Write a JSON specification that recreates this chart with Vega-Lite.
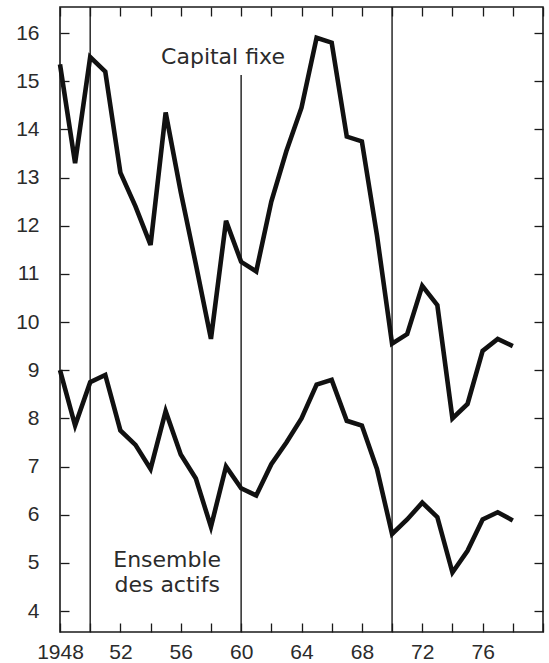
{
  "$schema": "https://vega.github.io/schema/vega-lite/v6.json",
  "width": 483,
  "height": 625,
  "autosize": {"type": "none"},
  "padding": {"left": 60, "top": 7, "right": 6, "bottom": 31},
  "background": "white",
  "config": {
    "view": {"stroke": "#1a1a1a", "strokeWidth": 1.6},
    "axis": {
      "domain": false,
      "grid": false,
      "title": null,
      "tickColor": "#1a1a1a",
      "tickWidth": 1.3,
      "tickSize": 9,
      "offset": -9,
      "labelFont": "Liberation Sans",
      "labelFontSize": 21,
      "labelColor": "#2b2b2b"
    }
  },
  "datasets": {
    "decades": [
      {"year": 1950, "lo": 3.565, "hi": 16.54},
      {"year": 1960, "lo": 3.565, "hi": 15.13},
      {"year": 1970, "lo": 3.565, "hi": 16.54}
    ],
    "series": [
      {"year": 1948, "serie": "Capital fixe", "taux": 15.35},
      {"year": 1949, "serie": "Capital fixe", "taux": 13.3},
      {"year": 1950, "serie": "Capital fixe", "taux": 15.5},
      {"year": 1951, "serie": "Capital fixe", "taux": 15.2},
      {"year": 1952, "serie": "Capital fixe", "taux": 13.1},
      {"year": 1953, "serie": "Capital fixe", "taux": 12.4},
      {"year": 1954, "serie": "Capital fixe", "taux": 11.6},
      {"year": 1955, "serie": "Capital fixe", "taux": 14.35},
      {"year": 1956, "serie": "Capital fixe", "taux": 12.7},
      {"year": 1957, "serie": "Capital fixe", "taux": 11.2},
      {"year": 1958, "serie": "Capital fixe", "taux": 9.65},
      {"year": 1959, "serie": "Capital fixe", "taux": 12.1},
      {"year": 1960, "serie": "Capital fixe", "taux": 11.25},
      {"year": 1961, "serie": "Capital fixe", "taux": 11.05},
      {"year": 1962, "serie": "Capital fixe", "taux": 12.5},
      {"year": 1963, "serie": "Capital fixe", "taux": 13.55},
      {"year": 1964, "serie": "Capital fixe", "taux": 14.45},
      {"year": 1965, "serie": "Capital fixe", "taux": 15.9},
      {"year": 1966, "serie": "Capital fixe", "taux": 15.8},
      {"year": 1967, "serie": "Capital fixe", "taux": 13.85},
      {"year": 1968, "serie": "Capital fixe", "taux": 13.75},
      {"year": 1969, "serie": "Capital fixe", "taux": 11.8},
      {"year": 1970, "serie": "Capital fixe", "taux": 9.55},
      {"year": 1971, "serie": "Capital fixe", "taux": 9.75},
      {"year": 1972, "serie": "Capital fixe", "taux": 10.75},
      {"year": 1973, "serie": "Capital fixe", "taux": 10.35},
      {"year": 1974, "serie": "Capital fixe", "taux": 8.0},
      {"year": 1975, "serie": "Capital fixe", "taux": 8.3},
      {"year": 1976, "serie": "Capital fixe", "taux": 9.4},
      {"year": 1977, "serie": "Capital fixe", "taux": 9.65},
      {"year": 1978, "serie": "Capital fixe", "taux": 9.5},
      {"year": 1948, "serie": "Ensemble des actifs", "taux": 9.0},
      {"year": 1949, "serie": "Ensemble des actifs", "taux": 7.85},
      {"year": 1950, "serie": "Ensemble des actifs", "taux": 8.75},
      {"year": 1951, "serie": "Ensemble des actifs", "taux": 8.9},
      {"year": 1952, "serie": "Ensemble des actifs", "taux": 7.75},
      {"year": 1953, "serie": "Ensemble des actifs", "taux": 7.45},
      {"year": 1954, "serie": "Ensemble des actifs", "taux": 6.95},
      {"year": 1955, "serie": "Ensemble des actifs", "taux": 8.15},
      {"year": 1956, "serie": "Ensemble des actifs", "taux": 7.25},
      {"year": 1957, "serie": "Ensemble des actifs", "taux": 6.75},
      {"year": 1958, "serie": "Ensemble des actifs", "taux": 5.75},
      {"year": 1959, "serie": "Ensemble des actifs", "taux": 7.0},
      {"year": 1960, "serie": "Ensemble des actifs", "taux": 6.55},
      {"year": 1961, "serie": "Ensemble des actifs", "taux": 6.4},
      {"year": 1962, "serie": "Ensemble des actifs", "taux": 7.05},
      {"year": 1963, "serie": "Ensemble des actifs", "taux": 7.5},
      {"year": 1964, "serie": "Ensemble des actifs", "taux": 8.0},
      {"year": 1965, "serie": "Ensemble des actifs", "taux": 8.7},
      {"year": 1966, "serie": "Ensemble des actifs", "taux": 8.8},
      {"year": 1967, "serie": "Ensemble des actifs", "taux": 7.95},
      {"year": 1968, "serie": "Ensemble des actifs", "taux": 7.85},
      {"year": 1969, "serie": "Ensemble des actifs", "taux": 6.95},
      {"year": 1970, "serie": "Ensemble des actifs", "taux": 5.6},
      {"year": 1971, "serie": "Ensemble des actifs", "taux": 5.9},
      {"year": 1972, "serie": "Ensemble des actifs", "taux": 6.25},
      {"year": 1973, "serie": "Ensemble des actifs", "taux": 5.95},
      {"year": 1974, "serie": "Ensemble des actifs", "taux": 4.8},
      {"year": 1975, "serie": "Ensemble des actifs", "taux": 5.25},
      {"year": 1976, "serie": "Ensemble des actifs", "taux": 5.9},
      {"year": 1977, "serie": "Ensemble des actifs", "taux": 6.05},
      {"year": 1978, "serie": "Ensemble des actifs", "taux": 5.88}
    ],
    "labels": [
      {"year": 1958.8, "taux": 15.51, "texte": ["Capital  fixe"]},
      {"year": 1955.1, "taux": 5.05, "texte": ["Ensemble", "des actifs"]}
    ]
  },
  "resolve": {"axis": {"x": "independent", "y": "independent"}},
  "layer": [
    {
      "data": {"name": "decades"},
      "mark": {"type": "rule", "color": "#1a1a1a", "strokeWidth": 1.4},
      "encoding": {
        "x": {
          "field": "year",
          "type": "quantitative",
          "scale": {"domain": [1948, 1980], "nice": false, "zero": false},
          "axis": {
            "orient": "bottom",
            "values": [1948, 1950, 1952, 1954, 1956, 1958, 1960, 1962, 1964, 1966, 1968, 1970, 1972, 1974, 1976, 1978, 1980],
            "labelExpr": "datum.value === 1948 ? '1948' : ((datum.value % 4 === 0 && datum.value < 1980) ? slice(toString(datum.value), 2) : '')",
            "labelOverlap": false,
            "labelFlush": false,
            "labelPadding": 9
          }
        },
        "y": {
          "field": "lo",
          "type": "quantitative",
          "scale": {"domain": [3.565, 16.54], "nice": false, "zero": false},
          "axis": {
            "orient": "left",
            "values": [4, 5, 6, 7, 8, 9, 10, 11, 12, 13, 14, 15, 16],
            "labelPadding": 21
          }
        },
        "y2": {"field": "hi"}
      }
    },
    {
      "data": {"name": "series"},
      "mark": {"type": "line", "color": "#111111", "strokeWidth": 4.6, "strokeJoin": "miter"},
      "encoding": {
        "x": {
          "field": "year",
          "type": "quantitative",
          "axis": {
            "orient": "top",
            "values": [1948, 1950, 1952, 1954, 1956, 1958, 1960, 1962, 1964, 1966, 1968, 1970, 1972, 1974, 1976, 1978, 1980],
            "labels": false
          }
        },
        "y": {
          "field": "taux",
          "type": "quantitative",
          "axis": {
            "orient": "right",
            "values": [4, 5, 6, 7, 8, 9, 10, 11, 12, 13, 14, 15, 16],
            "labels": false
          }
        },
        "detail": {"field": "serie"}
      }
    },
    {
      "data": {"name": "labels"},
      "mark": {
        "type": "text",
        "font": "DejaVu Sans",
        "fontSize": 22,
        "color": "#2b2b2b",
        "align": "center",
        "baseline": "middle",
        "lineHeight": 25
      },
      "encoding": {
        "x": {"field": "year", "type": "quantitative", "axis": null},
        "y": {"field": "taux", "type": "quantitative", "axis": null},
        "text": {"field": "texte"}
      }
    }
  ]
}
